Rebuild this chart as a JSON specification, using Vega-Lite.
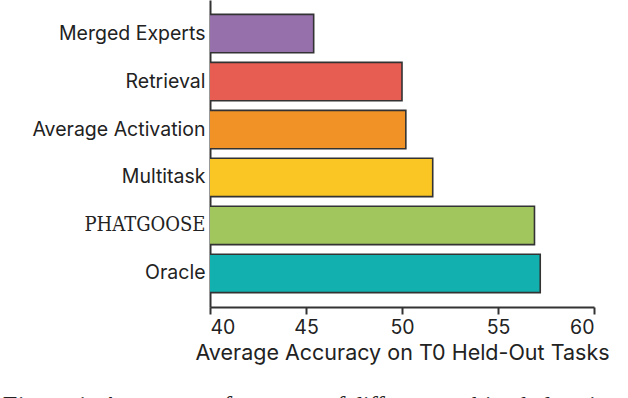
{
  "$schema": "https://vega.github.io/schema/vega-lite/v6.json",
  "width": 384,
  "height": 307,
  "autosize": {"type": "none"},
  "padding": {"left": 210, "top": 0, "right": 34, "bottom": 91},
  "background": "white",
  "title": {
    "text": "Figure 1: Average performance of different multitask data in",
    "orient": "bottom",
    "anchor": "start",
    "frame": "bounds",
    "font": "Liberation Serif",
    "fontStyle": "italic",
    "fontWeight": "normal",
    "fontSize": 25,
    "color": "#222",
    "offset": 29.8,
    "dx": -31
  },
  "data": {
    "values": [
      {"method": "Merged Experts", "acc": 45.4},
      {"method": "Retrieval", "acc": 50.0},
      {"method": "Average Activation", "acc": 50.2},
      {"method": "Multitask", "acc": 51.6},
      {"method": "PHATGOOSE", "acc": 56.9},
      {"method": "Oracle", "acc": 57.2}
    ]
  },
  "mark": {"type": "bar", "stroke": "#333333", "strokeWidth": 1.6, "clip": true},
  "encoding": {
    "y": {
      "field": "method",
      "type": "nominal",
      "sort": null,
      "scale": {"paddingInner": 0.2, "paddingOuter": 0.3},
      "axis": {
        "title": null,
        "ticks": false,
        "domainColor": "#333333",
        "domainWidth": 2,
        "labelFontSize": {"condition": {"test": "datum.value == 'PHATGOOSE'", "value": 20}, "value": 19.5},
        "labelFont": {"condition": {"test": "datum.value == 'PHATGOOSE'", "value": "DejaVu Serif Condensed, DejaVu Serif"}, "value": "Inter"},
        "labelColor": "#222",
        "labelPadding": 5,
        "grid": false
      }
    },
    "x": {
      "field": "acc",
      "type": "quantitative",
      "scale": {"domain": [40, 60], "zero": false, "nice": false},
      "axis": {
        "title": "Average Accuracy on T0 Held-Out Tasks",
        "titleFont": "Inter",
        "titleFontSize": 21.5,
        "titleFontWeight": "normal",
        "titleColor": "#222",
        "titlePadding": 6,
        "values": [40, 45, 50, 55, 60],
        "labelFont": "Inter",
        "labelFontSize": 19.5,
        "labelColor": "#222",
        "labelPadding": 4,
        "tickSize": 7,
        "tickWidth": 2,
        "tickColor": "#333333",
        "domainColor": "#333333",
        "domainWidth": 2,
        "grid": false
      }
    },
    "color": {
      "field": "method",
      "type": "nominal",
      "legend": null,
      "scale": {
        "domain": ["Merged Experts", "Retrieval", "Average Activation", "Multitask", "PHATGOOSE", "Oracle"],
        "range": ["#9570ab", "#e85d52", "#f09226", "#f9c623", "#a2c65e", "#12b0af"]
      }
    }
  },
  "config": {"view": {"stroke": null}}
}
